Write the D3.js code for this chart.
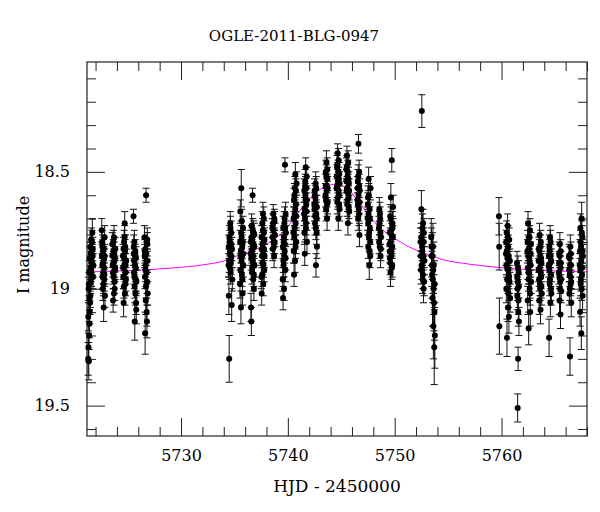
<!DOCTYPE html>
<html>
<head>
<meta charset="utf-8">
<script src="https://cdn.jsdelivr.net/npm/d3@7"></script>
<style>
  body { margin: 0; background: #fff; }
  text { font-family: "DejaVu Serif", serif; fill: #000; }
</style>
</head>
<body>
<div class="chart"></div>
<script>
// light curve of OGLE-2011-BLG-0947, [HJD-2450000, I mag, error]
var season1 = [
  [5721.31,19.30,0.07],[5721.34,19.25,0.06],[5721.37,19.31,0.08],[5721.40,19.20,0.06],[5721.43,19.15,0.06],
  [5721.46,19.10,0.05],[5721.49,19.06,0.05],[5721.52,19.03,0.05],[5721.55,18.97,0.05],[5721.58,18.92,0.05],
  [5721.61,18.88,0.05],[5721.64,18.84,0.05],[5721.67,18.80,0.05],[5721.70,18.76,0.06],[5721.73,18.86,0.05],
  [5721.76,18.95,0.05],[5721.79,18.90,0.05],[5721.35,19.00,0.05],
  [5721.32,19.12,0.06],[5721.38,18.98,0.05],[5721.41,18.93,0.05],[5721.44,19.04,0.05],[5721.47,18.87,0.05],
  [5721.50,18.82,0.05],[5721.53,18.91,0.05],[5721.56,18.85,0.05],[5721.59,18.79,0.05],[5721.62,18.94,0.05],
  [5721.68,18.89,0.05],[5721.74,18.83,0.05],
  [5722.58,18.75,0.05],[5722.62,18.80,0.05],[5722.65,18.90,0.05],[5722.68,19.00,0.05],[5722.70,18.84,0.05],
  [5722.73,18.93,0.05],[5722.76,19.08,0.06],[5722.79,18.87,0.05],[5722.82,18.96,0.05],[5722.85,18.78,0.05],
  [5722.88,19.03,0.05],
  [5722.60,18.86,0.05],[5722.64,18.82,0.05],[5722.67,18.95,0.05],[5722.71,18.89,0.05],[5722.74,18.98,0.05],
  [5722.77,18.83,0.05],[5722.80,18.91,0.05],[5722.83,18.94,0.05],[5722.86,18.86,0.05],
  [5723.57,18.81,0.05],[5723.61,18.90,0.05],[5723.64,19.05,0.05],[5723.67,18.84,0.05],[5723.70,18.95,0.05],
  [5723.73,18.78,0.05],[5723.76,18.88,0.05],[5723.79,19.00,0.05],[5723.82,18.92,0.05],[5723.85,18.83,0.05],
  [5723.59,18.86,0.05],[5723.63,18.93,0.05],[5723.66,18.80,0.05],[5723.69,18.89,0.05],[5723.72,19.02,0.05],
  [5723.75,18.85,0.05],[5723.78,18.97,0.05],[5723.81,18.87,0.05],[5723.84,18.91,0.05],
  [5724.57,18.86,0.05],[5724.60,18.95,0.05],[5724.63,19.06,0.06],[5724.67,18.80,0.05],[5724.70,18.90,0.05],
  [5724.73,18.72,0.05],[5724.76,18.84,0.05],[5724.79,18.98,0.05],[5724.82,18.93,0.05],[5724.86,18.88,0.05],
  [5724.59,18.91,0.05],[5724.62,18.83,0.05],[5724.65,18.99,0.05],[5724.68,18.87,0.05],[5724.72,18.78,0.05],
  [5724.75,19.02,0.05],[5724.78,18.82,0.05],[5724.81,18.90,0.05],[5724.84,18.96,0.05],
  [5725.55,18.69,0.03],[5725.58,18.82,0.05],[5725.61,18.88,0.05],[5725.64,18.95,0.05],[5725.67,19.14,0.08],
  [5725.70,18.86,0.05],[5725.73,19.02,0.05],[5725.76,18.91,0.05],[5725.79,19.06,0.05],[5725.82,18.97,0.05],
  [5725.57,18.85,0.05],[5725.60,18.93,0.05],[5725.63,18.80,0.05],[5725.66,18.99,0.05],[5725.69,18.90,0.05],
  [5725.72,18.84,0.05],[5725.75,18.96,0.05],[5725.78,18.87,0.05],[5725.81,19.09,0.06],
  [5726.58,18.78,0.05],[5726.61,18.84,0.05],[5726.64,19.19,0.09],[5726.67,18.92,0.05],[5726.70,19.05,0.06],
  [5726.73,18.60,0.03],[5726.76,18.88,0.05],[5726.79,19.10,0.06],[5726.82,18.97,0.05],[5726.85,18.81,0.05],
  [5726.88,19.02,0.05],
  [5726.60,18.86,0.05],[5726.63,18.95,0.05],[5726.66,18.83,0.05],[5726.69,18.90,0.05],[5726.72,18.99,0.05],
  [5726.75,18.85,0.05],[5726.78,18.93,0.05],[5726.81,19.14,0.07],[5726.84,18.79,0.05],[5726.87,18.88,0.05]
];

var season2 = [
  [5734.45,18.90,0.05],[5734.48,19.03,0.08],[5734.51,19.30,0.10],[5734.55,18.80,0.05],[5734.58,18.85,0.05],
  [5734.61,18.72,0.05],[5734.64,18.93,0.05],[5734.67,18.87,0.05],[5734.70,18.76,0.05],[5734.74,19.07,0.07],
  [5734.77,18.83,0.05],[5734.80,18.96,0.05],
  [5734.47,18.82,0.05],[5734.50,18.88,0.05],[5734.53,18.78,0.05],[5734.57,18.91,0.05],[5734.60,18.84,0.05],
  [5734.63,18.74,0.05],[5734.66,18.89,0.05],[5734.69,18.81,0.05],[5734.72,18.86,0.05],
  [5735.52,18.98,0.06],[5735.55,18.67,0.05],[5735.58,18.86,0.05],[5735.61,19.08,0.07],[5735.64,18.57,0.08],
  [5735.67,18.78,0.05],[5735.70,18.94,0.05],[5735.73,18.82,0.05],[5735.76,19.02,0.05],[5735.80,18.74,0.05],
  [5735.83,18.90,0.05],
  [5735.54,18.80,0.05],[5735.57,18.92,0.05],[5735.60,18.84,0.05],[5735.63,18.76,0.05],[5735.66,18.88,0.05],
  [5735.69,18.71,0.05],[5735.72,18.86,0.05],[5735.75,18.96,0.05],[5735.78,18.80,0.05],[5735.82,18.85,0.05],
  [5736.52,18.85,0.05],[5736.55,19.08,0.06],[5736.58,19.14,0.06],[5736.61,18.73,0.05],[5736.64,18.93,0.05],
  [5736.67,18.79,0.05],[5736.70,18.60,0.03],[5736.73,18.88,0.05],[5736.76,18.96,0.05],[5736.79,18.76,0.05],
  [5736.82,19.00,0.05],[5736.85,18.82,0.05],[5736.88,18.90,0.05],
  [5736.54,18.80,0.05],[5736.57,18.87,0.05],[5736.60,18.78,0.05],[5736.63,18.84,0.05],[5736.66,18.91,0.05],
  [5736.69,18.83,0.05],[5736.72,18.75,0.05],[5736.75,18.86,0.05],[5736.78,18.81,0.05],[5736.81,18.94,0.05],
  [5736.84,18.77,0.05],
  [5737.52,18.95,0.05],[5737.55,19.02,0.05],[5737.58,18.83,0.05],[5737.61,18.72,0.05],[5737.64,18.89,0.05],
  [5737.67,18.68,0.05],[5737.70,18.98,0.05],[5737.73,18.80,0.05],[5737.76,18.76,0.05],[5737.79,18.92,0.05],
  [5737.82,18.86,0.05],
  [5737.54,18.78,0.05],[5737.57,18.86,0.05],[5737.60,18.94,0.05],[5737.63,18.81,0.05],[5737.66,18.75,0.05],
  [5737.69,18.84,0.05],[5737.72,18.90,0.05],[5737.75,18.70,0.05],[5737.78,18.83,0.05],[5737.81,18.79,0.05],
  [5738.55,18.74,0.04],[5738.59,18.83,0.05],[5738.63,18.68,0.04],[5738.67,18.80,0.05],[5738.71,18.86,0.05],
  [5738.75,18.71,0.04],[5738.79,18.77,0.05],
  [5738.57,18.78,0.05],[5738.61,18.72,0.04],[5738.65,18.75,0.05],[5738.69,18.82,0.05],[5738.73,18.70,0.04],
  [5738.77,18.80,0.05],
  [5739.52,18.96,0.05],[5739.55,19.04,0.05],[5739.58,18.88,0.05],[5739.61,18.80,0.05],[5739.64,19.00,0.05],
  [5739.67,18.72,0.05],[5739.70,18.84,0.05],[5739.73,18.47,0.03],[5739.76,18.92,0.05],[5739.79,18.68,0.05],
  [5739.82,18.76,0.05],
  [5739.54,18.82,0.05],[5739.57,18.74,0.05],[5739.60,18.90,0.05],[5739.63,18.78,0.05],[5739.66,18.86,0.05],
  [5739.69,18.70,0.05],[5739.72,18.81,0.05],[5739.75,18.74,0.05],[5739.78,18.87,0.05],
  [5740.52,18.76,0.05],[5740.55,18.84,0.05],[5740.58,18.94,0.05],[5740.61,18.60,0.05],[5740.64,18.68,0.05],
  [5740.67,18.88,0.05],[5740.70,18.51,0.05],[5740.73,18.72,0.05],[5740.76,18.64,0.05],[5740.79,18.80,0.05],
  [5740.82,18.55,0.05],
  [5740.54,18.70,0.05],[5740.57,18.62,0.05],[5740.60,18.78,0.05],[5740.63,18.74,0.05],[5740.66,18.57,0.05],
  [5740.69,18.66,0.05],[5740.72,18.82,0.05],[5740.75,18.58,0.05],[5740.78,18.69,0.05],
  [5741.52,18.68,0.05],[5741.55,18.76,0.05],[5741.58,18.85,0.05],[5741.61,18.56,0.05],[5741.64,18.60,0.05],
  [5741.67,18.48,0.04],[5741.70,18.72,0.05],[5741.73,18.64,0.05],[5741.76,18.52,0.04],[5741.79,18.80,0.05],
  [5741.54,18.58,0.05],[5741.57,18.66,0.05],[5741.60,18.70,0.05],[5741.63,18.54,0.05],[5741.66,18.62,0.05],
  [5741.69,18.74,0.05],[5741.72,18.57,0.05],[5741.75,18.67,0.05],[5741.78,18.62,0.05],
  [5742.48,18.64,0.05],[5742.51,18.58,0.05],[5742.54,18.72,0.05],[5742.57,18.61,0.05],[5742.60,18.55,0.05],
  [5742.63,18.90,0.05],[5742.66,18.68,0.05],[5742.69,18.76,0.05],[5742.72,18.82,0.05],
  [5742.50,18.66,0.05],[5742.53,18.60,0.05],[5742.56,18.69,0.05],[5742.59,18.63,0.05],[5742.62,18.74,0.05],
  [5742.65,18.57,0.05],[5742.68,18.70,0.05],[5742.71,18.65,0.05],
  [5743.52,18.60,0.05],[5743.55,18.50,0.05],[5743.58,18.66,0.05],[5743.61,18.46,0.05],[5743.64,18.56,0.05],
  [5743.67,18.70,0.05],[5743.70,18.53,0.05],[5743.73,18.63,0.05],
  [5743.54,18.56,0.05],[5743.57,18.62,0.05],[5743.60,18.52,0.05],[5743.63,18.58,0.05],[5743.66,18.64,0.05],
  [5743.69,18.49,0.05],[5743.72,18.57,0.05],
  [5744.57,18.57,0.05],[5744.60,18.48,0.05],[5744.63,18.63,0.05],[5744.66,18.42,0.04],[5744.69,18.54,0.05],
  [5744.72,18.70,0.05],[5744.75,18.45,0.05],[5744.78,18.60,0.05],[5744.81,18.51,0.05],[5744.84,18.66,0.05],
  [5744.59,18.52,0.05],[5744.62,18.56,0.05],[5744.65,18.47,0.05],[5744.68,18.61,0.05],[5744.71,18.50,0.05],
  [5744.74,18.58,0.05],[5744.77,18.53,0.05],[5744.80,18.64,0.05],[5744.83,18.55,0.05],
  [5745.47,18.49,0.05],[5745.50,18.58,0.05],[5745.53,18.43,0.04],[5745.56,18.64,0.05],[5745.59,18.52,0.05],
  [5745.62,18.72,0.05],[5745.65,18.46,0.05],[5745.68,18.61,0.05],[5745.71,18.55,0.05],[5745.74,18.67,0.05],
  [5745.49,18.54,0.05],[5745.52,18.48,0.05],[5745.55,18.57,0.05],[5745.58,18.62,0.05],[5745.61,18.50,0.05],
  [5745.64,18.59,0.05],[5745.67,18.53,0.05],[5745.70,18.65,0.05],[5745.73,18.58,0.05],
  [5746.52,18.62,0.05],[5746.55,18.54,0.05],[5746.58,18.70,0.05],[5746.61,18.38,0.04],[5746.64,18.66,0.05],
  [5746.67,18.50,0.05],[5746.70,18.77,0.05],[5746.73,18.58,0.05],
  [5746.53,18.57,0.05],[5746.56,18.64,0.05],[5746.59,18.52,0.05],[5746.62,18.60,0.05],[5746.65,18.68,0.05],
  [5746.68,18.56,0.05],[5746.71,18.63,0.05],
  [5747.47,18.70,0.05],[5747.50,18.61,0.05],[5747.53,18.82,0.05],[5747.56,18.53,0.05],[5747.59,18.78,0.05],
  [5747.62,18.90,0.06],[5747.65,18.66,0.05],[5747.68,18.74,0.05],[5747.71,18.86,0.05],[5747.74,18.57,0.05],
  [5747.49,18.64,0.05],[5747.52,18.72,0.05],[5747.55,18.68,0.05],[5747.58,18.60,0.05],[5747.61,18.76,0.05],
  [5747.64,18.84,0.05],[5747.67,18.70,0.05],[5747.70,18.80,0.05],
  [5748.52,18.74,0.05],[5748.56,18.66,0.05],[5748.60,18.82,0.05],[5748.64,18.70,0.05],[5748.68,18.86,0.05],
  [5748.72,18.78,0.05],
  [5748.54,18.80,0.05],[5748.58,18.72,0.05],[5748.62,18.68,0.05],[5748.66,18.76,0.05],[5748.70,18.83,0.05],
  [5749.52,18.81,0.05],[5749.55,18.87,0.05],[5749.58,18.69,0.05],[5749.61,18.93,0.06],[5749.64,18.61,0.06],
  [5749.67,18.75,0.05],[5749.70,18.84,0.05],[5749.73,18.45,0.05],[5749.76,18.90,0.05],[5749.79,18.72,0.05],
  [5749.82,18.78,0.05],[5749.85,18.65,0.05],
  [5749.53,18.84,0.05],[5749.56,18.76,0.05],[5749.59,18.89,0.05],[5749.62,18.80,0.05],[5749.65,18.70,0.05],
  [5749.68,18.86,0.05],[5749.71,18.77,0.05],[5749.74,18.91,0.05],[5749.77,18.82,0.05],[5749.80,18.74,0.05],
  [5752.42,18.80,0.06],[5752.46,18.92,0.06],[5752.50,18.66,0.08],[5752.54,18.24,0.07],[5752.58,18.84,0.06],
  [5752.62,18.96,0.06],[5752.66,18.72,0.06],[5752.70,19.00,0.06],[5752.74,18.76,0.06],[5752.78,18.88,0.06],
  [5752.44,18.86,0.06],[5752.48,18.78,0.06],[5752.52,18.90,0.06],[5752.56,18.82,0.06],[5752.60,18.74,0.06],
  [5752.64,18.94,0.06],[5752.68,18.86,0.06],[5752.72,18.80,0.06],[5752.76,18.97,0.06],
  [5753.42,18.78,0.08],[5753.46,18.86,0.09],[5753.50,18.94,0.10],[5753.54,19.04,0.12],[5753.58,18.82,0.10],
  [5753.62,19.16,0.14],[5753.66,18.90,0.10],[5753.70,19.25,0.16],[5753.72,19.10,0.12],[5753.74,18.98,0.10],
  [5753.76,19.20,0.14],
  [5753.44,18.82,0.08],[5753.48,18.90,0.09],[5753.52,18.86,0.10],[5753.56,18.96,0.10],[5753.60,18.92,0.10],
  [5753.64,19.00,0.11],[5753.68,19.06,0.12]
];

var season3 = [
  [5759.76,18.69,0.08],[5759.78,18.82,0.10],[5759.80,19.16,0.12],
  [5760.42,18.85,0.05],[5760.45,19.00,0.06],[5760.48,18.76,0.05],[5760.51,19.21,0.08],[5760.54,18.91,0.05],
  [5760.57,18.73,0.05],[5760.60,19.08,0.06],[5760.63,18.82,0.05],[5760.66,18.94,0.05],[5760.69,19.12,0.07],
  [5760.72,18.79,0.05],[5760.75,18.97,0.05],[5760.78,18.88,0.05],[5760.81,19.04,0.06],
  [5760.44,18.80,0.05],[5760.47,18.90,0.05],[5760.50,18.84,0.05],[5760.53,18.96,0.05],[5760.56,18.87,0.05],
  [5760.59,18.78,0.05],[5760.62,18.92,0.05],[5760.65,19.02,0.06],[5760.68,18.86,0.05],[5760.71,18.95,0.05],
  [5761.45,18.89,0.05],[5761.48,19.03,0.06],[5761.51,19.51,0.06],[5761.53,18.97,0.05],[5761.55,19.30,0.05],
  [5761.57,19.10,0.06],[5761.60,18.93,0.05],[5761.63,19.14,0.06],
  [5761.47,18.95,0.05],[5761.50,19.00,0.05],[5761.54,18.91,0.05],[5761.58,19.05,0.06],[5761.62,18.99,0.05],
  [5762.42,18.84,0.05],[5762.45,19.05,0.06],[5762.48,18.72,0.05],[5762.51,18.93,0.05],[5762.54,19.17,0.07],
  [5762.57,18.78,0.05],[5762.60,18.87,0.05],[5762.63,19.00,0.05],[5762.66,18.75,0.05],[5762.69,19.10,0.06],
  [5762.72,18.90,0.05],[5762.75,18.81,0.05],[5762.78,18.97,0.05],
  [5762.44,18.80,0.05],[5762.47,18.91,0.05],[5762.50,18.86,0.05],[5762.53,18.96,0.05],[5762.56,18.83,0.05],
  [5762.59,18.93,0.05],[5762.62,18.78,0.05],[5762.65,18.89,0.05],[5762.68,19.02,0.05],[5762.71,18.85,0.05],
  [5763.47,18.92,0.05],[5763.50,18.83,0.05],[5763.53,19.05,0.06],[5763.56,18.77,0.05],[5763.59,18.98,0.05],
  [5763.62,18.86,0.05],[5763.65,19.09,0.06],[5763.68,18.80,0.05],[5763.71,18.95,0.05],[5763.74,18.89,0.05],
  [5763.77,19.02,0.05],
  [5763.49,18.88,0.05],[5763.52,18.96,0.05],[5763.55,18.84,0.05],[5763.58,18.91,0.05],[5763.61,19.00,0.05],
  [5763.64,18.82,0.05],[5763.67,18.93,0.05],[5763.70,18.87,0.05],[5763.73,18.99,0.05],
  [5764.42,18.90,0.05],[5764.45,19.21,0.08],[5764.48,18.82,0.05],[5764.51,18.98,0.05],[5764.54,18.78,0.05],
  [5764.57,19.06,0.06],[5764.60,18.86,0.05],[5764.63,18.94,0.05],[5764.66,19.02,0.05],
  [5764.44,18.86,0.05],[5764.47,18.92,0.05],[5764.50,18.84,0.05],[5764.53,18.96,0.05],[5764.56,18.89,0.05],
  [5764.59,18.80,0.05],[5764.62,19.00,0.05],[5764.65,18.88,0.05],
  [5765.37,18.93,0.05],[5765.40,18.85,0.05],[5765.43,19.05,0.06],[5765.46,18.81,0.05],[5765.49,18.97,0.05],
  [5765.52,19.11,0.06],[5765.55,18.89,0.05],[5765.58,19.01,0.05],
  [5765.39,18.89,0.05],[5765.42,18.95,0.05],[5765.45,18.86,0.05],[5765.48,19.00,0.05],[5765.51,18.91,0.05],
  [5765.54,18.84,0.05],[5765.57,18.96,0.05],
  [5766.32,18.86,0.05],[5766.35,19.02,0.05],[5766.38,18.94,0.05],[5766.41,19.29,0.08],[5766.44,18.82,0.05],
  [5766.47,18.98,0.05],[5766.50,18.90,0.05],[5766.53,19.06,0.06],
  [5766.34,18.92,0.05],[5766.37,18.87,0.05],[5766.40,19.00,0.05],[5766.43,18.90,0.05],[5766.46,18.95,0.05],
  [5766.49,18.85,0.05],[5766.52,18.97,0.05],
  [5767.32,18.90,0.05],[5767.35,19.10,0.06],[5767.38,18.74,0.06],[5767.41,18.98,0.05],[5767.44,18.82,0.05],
  [5767.47,19.19,0.07],[5767.50,18.70,0.07],[5767.53,18.94,0.05],[5767.56,18.78,0.05],[5767.59,19.03,0.06],
  [5767.62,18.86,0.05],
  [5767.34,18.84,0.05],[5767.37,18.92,0.05],[5767.40,18.80,0.05],[5767.43,18.96,0.05],[5767.46,18.88,0.05],
  [5767.49,19.00,0.05],[5767.52,18.76,0.05],[5767.55,18.91,0.05],[5767.58,18.84,0.05]
];

// model curve
var modelT   = [5721.2, 5725, 5729, 5732, 5734.1, 5735.4, 5737.2, 5738.8, 5739.9, 5740.7, 5741.6, 5742.6, 5743.5,
                5744.5, 5745.7, 5746.6, 5747.6, 5748.5, 5749.8, 5751.3, 5752.9, 5754.3, 5757, 5760, 5764, 5768];
var modelMag = [18.928, 18.923, 18.912, 18.898, 18.88, 18.856, 18.827, 18.785, 18.74, 18.69, 18.64, 18.59, 18.563,
                18.553, 18.577, 18.627, 18.685, 18.735, 18.778, 18.82, 18.85, 18.873, 18.895, 18.91, 18.922, 18.928];

var xMajor = [5730, 5740, 5750, 5760];
var yMajor = [18.5, 19, 19.5];

var w = 600;
var h = 512;
var pL = 87, pR = 587, pT = 62, pB = 436;

var svg = d3.select(".chart").append("svg").attr("width", w).attr("height", h);

var x = d3.scaleLinear().domain([5721.2, 5768.0]).range([pL, pR]);
var y = d3.scaleLinear().domain([18.03, 19.63]).range([pT, pB]);

var xMinor = d3.range(5722, 5768.01, 2).filter(function(d){ return xMajor.indexOf(d) < 0; });
var yMinor = d3.range(18.1, 19.61, 0.1).map(function(d){ return Math.round(d * 10) / 10; })
               .filter(function(d){ return yMajor.indexOf(d) < 0; });

// ticks, all pointing inward
function ticks(g) { g.select(".domain").remove(); g.selectAll("line").attr("stroke", "#222"); }

svg.append("g").attr("transform", "translate(0," + pB + ")")
   .call(d3.axisBottom(x).tickValues(xMinor).tickSize(-9).tickFormat("")).call(ticks);
svg.append("g").attr("transform", "translate(0," + pB + ")")
   .call(d3.axisBottom(x).tickValues(xMajor).tickSize(-18).tickPadding(14).tickFormat(d3.format("d"))).call(ticks)
   .selectAll("text").attr("font-size", 16).attr("font-family", "DejaVu Serif");
svg.append("g").attr("transform", "translate(0," + pT + ")")
   .call(d3.axisTop(x).tickValues(xMinor).tickSize(-9).tickFormat("")).call(ticks);
svg.append("g").attr("transform", "translate(0," + pT + ")")
   .call(d3.axisTop(x).tickValues(xMajor).tickSize(-18).tickFormat("")).call(ticks);

svg.append("g").attr("transform", "translate(" + pL + ",0)")
   .call(d3.axisLeft(y).tickValues(yMinor).tickSize(-9).tickFormat("")).call(ticks);
svg.append("g").attr("transform", "translate(" + pL + ",0)")
   .call(d3.axisLeft(y).tickValues(yMajor).tickSize(-18).tickPadding(17).tickFormat(function(d){ return String(d); }))
   .call(ticks)
   .selectAll("text").attr("font-size", 16).attr("font-family", "DejaVu Serif");
svg.append("g").attr("transform", "translate(" + pR + ",0)")
   .call(d3.axisRight(y).tickValues(yMinor).tickSize(-9).tickFormat("")).call(ticks);
svg.append("g").attr("transform", "translate(" + pR + ",0)")
   .call(d3.axisRight(y).tickValues(yMajor).tickSize(-18).tickFormat("")).call(ticks);

svg.append("rect").attr("x", pL).attr("y", pT).attr("width", pR - pL).attr("height", pB - pT)
   .attr("fill", "none").attr("stroke", "#222").attr("stroke-width", 1.2);

// model
var model = modelT.map(function(t, i){ return [t, modelMag[i]]; });
svg.append("path").datum(model)
   .attr("d", d3.line().x(function(d){ return x(d[0]); }).y(function(d){ return y(d[1]); }).curve(d3.curveMonotoneX))
   .attr("fill", "none").attr("stroke", "#ff00ff").attr("stroke-width", 1);

var data = season1.concat(season2, season3);

var bars = svg.append("g").selectAll("g").data(data).enter().append("g");
bars.append("line")
   .attr("x1", function(d){ return x(d[0]); }).attr("x2", function(d){ return x(d[0]); })
   .attr("y1", function(d){ return y(d[1] - d[2]); }).attr("y2", function(d){ return y(d[1] + d[2]); })
   .attr("stroke", "#111").attr("stroke-width", 1);
bars.append("line")
   .attr("x1", function(d){ return x(d[0]) - 3.5; }).attr("x2", function(d){ return x(d[0]) + 3.5; })
   .attr("y1", function(d){ return y(d[1] - d[2]); }).attr("y2", function(d){ return y(d[1] - d[2]); })
   .attr("stroke", "#111").attr("stroke-width", 1);
bars.append("line")
   .attr("x1", function(d){ return x(d[0]) - 3.5; }).attr("x2", function(d){ return x(d[0]) + 3.5; })
   .attr("y1", function(d){ return y(d[1] + d[2]); }).attr("y2", function(d){ return y(d[1] + d[2]); })
   .attr("stroke", "#111").attr("stroke-width", 1);

svg.append("g").selectAll("circle").data(data).enter().append("circle")
   .attr("cx", function(d){ return x(d[0]); })
   .attr("cy", function(d){ return y(d[1]); })
   .attr("r", 3).attr("fill", "#000");

// labels
svg.append("text").attr("x", 294).attr("y", 41).attr("text-anchor", "middle")
   .attr("font-size", 15).text("OGLE-2011-BLG-0947");
svg.append("text").attr("x", (pL + pR) / 2).attr("y", 492).attr("text-anchor", "middle")
   .attr("font-size", 17).text("HJD - 2450000");
svg.append("text").attr("transform", "translate(29," + 245 + ") rotate(-90)").attr("text-anchor", "middle")
   .attr("font-size", 16).text("I magnitude");
</script>
</body>
</html>
